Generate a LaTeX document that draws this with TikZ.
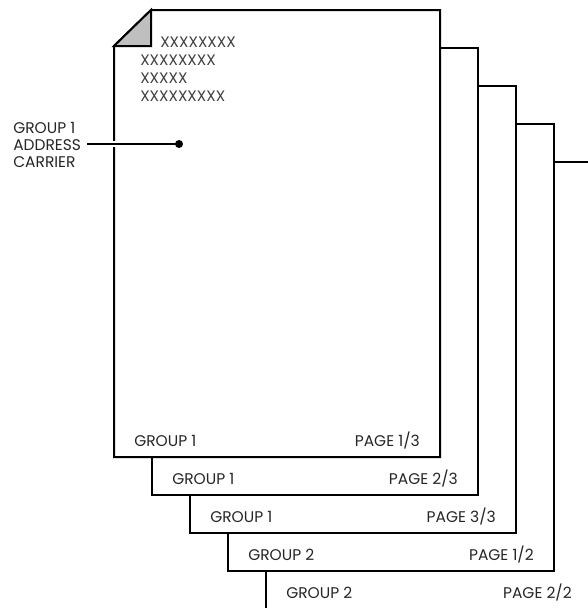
\documentclass[tikz,border=0pt]{standalone}
\usepackage{fontspec}
\setmainfont{Poppins}
\begin{document}
\begin{tikzpicture}[x=0.75pt,y=-0.75pt,
  pagebox/.style={draw=black,line width=1.5pt,fill=white,line join=miter},
  lbl/.style={font=\fontsize{11.6}{13}\selectfont,inner sep=0pt,text=black!85},
  xtxt/.style={font=\fontsize{11.4}{13}\selectfont,inner sep=0pt,anchor=west,text=black!75},
  leader/.style={line width=1.5pt}]
\useasboundingbox (0,0) rectangle (587,608);
% back pages
\foreach \i in {4,3,2,1}{
  \path[pagebox] ({114+38*\i},{10+38*\i}) rectangle ({440+38*\i},{457+38*\i});
}
% front page with folded corner
\path[pagebox] (114,46) -- (151,10) -- (440,10) -- (440,457) -- (114,457) -- cycle;
\path[fill=black!25] (114,46) -- (151,10) -- (151,46) -- cycle;
\draw[line width=1.5pt,line join=miter] (114,46) -- (151,10) -- (151,46) -- cycle;
% labels
\node[lbl,anchor=west] (g1) at (134,441) {GROUP 1};
\node[lbl,anchor=east] (p1) at (420,441) {PAGE 1/3};
\node[lbl,anchor=west] (g2) at (172,479) {GROUP 1};
\node[lbl,anchor=east] (p2) at (458,479) {PAGE 2/3};
\node[lbl,anchor=west] (g3) at (210,517) {GROUP 1};
\node[lbl,anchor=east] (p3) at (496,517) {PAGE 3/3};
\node[lbl,anchor=west] (g4) at (248,555) {GROUP 2};
\node[lbl,anchor=east] (p4) at (534,555) {PAGE 1/2};
\node[lbl,anchor=west] (g5) at (286,593) {GROUP 2};
\node[lbl,anchor=east] (p5) at (572,593) {PAGE 2/2};
% address text
\node[xtxt] (x1) at (160,42) {XXXXXXXX};
\node[xtxt] (x2) at (140,60) {XXXXXXXX};
\node[xtxt] (x3) at (140,78) {XXXXX};
\node[xtxt] (x4) at (140,96) {XXXXXXXXX};
% callout
\node[lbl,anchor=west,align=left,font=\fontsize{11.6}{13}\selectfont] (carrier) at (13,145) {GROUP 1\\ADDRESS\\CARRIER};
\coordinate (dot) at (179,144);
\draw[white,line width=5pt] (carrier.east|-dot) ++(6,0) -- (dot);
\draw[leader] (carrier.east|-dot) ++(6,0) -- (dot);
\fill (dot) circle (4);
\end{tikzpicture}
\end{document}
